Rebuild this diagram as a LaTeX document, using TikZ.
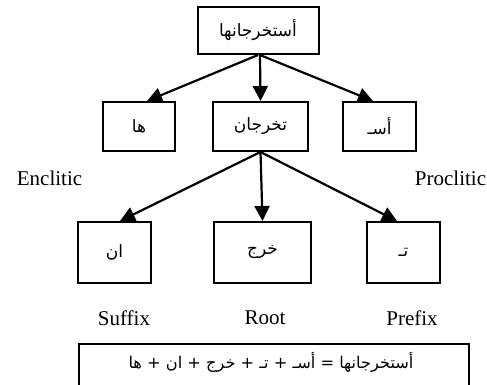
\documentclass[tikz,border=0pt]{standalone}
\usepackage{fontspec}
\setmainfont{Liberation Serif}
\newfontfamily\arabicfont[Script=Arabic]{DejaVu Sans}
\TeXXeTstate=1
\usetikzlibrary{arrows.meta}
\tikzset{
  arabic/.style={font=\arabicfont\fontsize{17}{20}\selectfont},
  wordbox/.style={draw, line width=2pt, rectangle, inner sep=0pt, arabic},
  tagtext/.style={font=\fontsize{21}{24}\selectfont, inner sep=0pt},
  link/.style={line width=2.2pt, -{Triangle[length=15pt,width=15pt]}}
}
\begin{document}
\begin{tikzpicture}[x=1pt,y=-1pt]
\useasboundingbox (0,0) rectangle (487,385);
\clip (0,0) rectangle (487,385);
% word and its segments
\node[wordbox, minimum width=121pt, minimum height=47pt] (word) at (258,30.5) {\beginR أستخرجانها\endR};
\node[wordbox, minimum width=72pt, minimum height=49pt] (enc) at (139,126.5) {\beginR ها\endR};
\node[wordbox, minimum width=95pt, minimum height=49pt] (stem) at (260.5,126.5) {\beginR تخرجان\endR};
\node[wordbox, minimum width=73pt, minimum height=49pt] (pro) at (379.5,126.5) {\beginR أسـ\endR};
\node[wordbox, minimum width=73pt, minimum height=61pt] (suf) at (114.5,252.5) {\beginR ان\endR};
\node[wordbox, minimum width=97pt, minimum height=61pt] (root) at (262.5,252.5) {\beginR خرج\endR};
\node[wordbox, minimum width=73pt, minimum height=61pt] (pre) at (403.5,252.5) {\beginR تـ\endR};
% labels
\node[tagtext] (lenc) at (49.5,178) {Enclitic};
\node[tagtext] (lpro) at (450.5,178) {Proclitic};
\node[tagtext] (lsuf) at (124,318) {Suffix};
\node[tagtext] (lroot) at (265,318) {Root};
\node[tagtext] (lpre) at (412,318) {Prefix};
% summary
\node[wordbox, minimum width=390pt, minimum height=56pt, anchor=north west] (sum) at (78,343) {};
\node[font=\arabicfont\fontsize{16.2}{19}\selectfont, inner sep=0pt] (sumtext) at (271,362)
  {\beginR أستخرجانها = أسـ + تـ + خرج + ان + ها\endR};
% connectors
\draw[link] (word.south) -- ([xshift=8pt]enc.north);
\draw[link] ([xshift=2pt]word.south) -- (stem.north);
\draw[link] ([xshift=2pt]word.south) -- ([xshift=-6.5pt]pro.north);
\draw[link] (stem.south) -- ([xshift=5.5pt]suf.north);
\draw[link] (stem.south) -- (root.north);
\draw[link] (stem.south) -- ([xshift=-6.5pt]pre.north);
\end{tikzpicture}
\end{document}
